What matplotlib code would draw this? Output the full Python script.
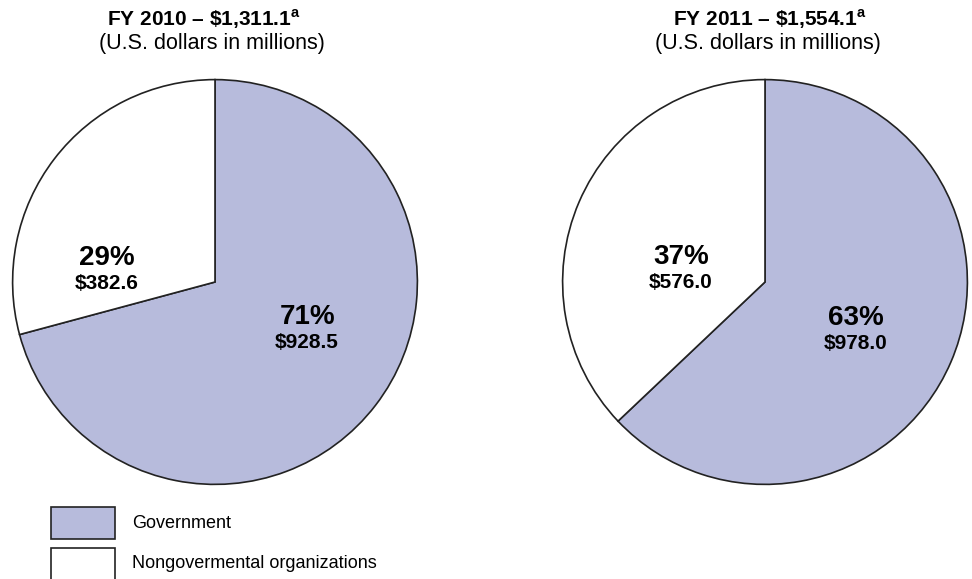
import matplotlib.pyplot as plt
from matplotlib.patches import Rectangle

plt.rcParams['font.family'] = ['Liberation Sans', 'DejaVu Sans']
plt.rcParams['mathtext.fontset'] = 'custom'
plt.rcParams['mathtext.rm'] = 'Liberation Sans'
plt.rcParams['mathtext.bf'] = 'Liberation Sans:bold'

years = ['FY 2010', 'FY 2011']
totals = ['1,311.1', '1,554.1']
government = [928.5, 978.0]
nongov = [382.6, 576.0]
labels = ['Government', 'Nongovermental organizations']
colors = ['#b7bbdc', '#ffffff']

# label offsets from pie center (in radius units): (dx, dy_pct, dy_val)
label_pos = [
    [(0.455, -0.175, -0.3), (-0.535, 0.12, -0.005)],
    [(0.45, -0.18, -0.305), (-0.415, 0.125, 0.0)],
]

W, H = 972, 579
fig = plt.figure(figsize=(W / 100, H / 100), dpi=100)

centers = [(215, 282), (765, 282)]
title_x = [204, 770]
sub_x = [212, 768]
r = 203

for i in range(2):
    cx, cy = centers[i]
    ax = fig.add_axes([(cx - r) / W, (H - cy - r) / H, 2 * r / W, 2 * r / H])
    vals = [government[i], nongov[i]]
    ax.pie(vals, colors=colors, startangle=90, counterclock=False,
           wedgeprops=dict(edgecolor='#222222', linewidth=1.2))
    ax.set_xlim(-1.003, 1.003)
    ax.set_ylim(-1.003, 1.003)
    ax.axis('off')
    total = sum(vals)
    for j, v in enumerate(vals):
        dx, dyp, dyv = label_pos[i][j]
        ax.text(dx, dyp, f'{round(v / total * 100):.0f}%', ha='center', va='center',
                fontsize=20, fontweight='bold')
        ax.text(dx, dyv, f'${v:.1f}', ha='center', va='center',
                fontsize=15, fontweight='bold')

    fig.text(title_x[i] / W, 1 - 19 / H,
             years[i] + r' – \$' + totals[i] + r'$^{\mathbf{a}}$',
             ha='center', va='center', fontsize=15, fontweight='bold')
    fig.text(sub_x[i] / W, 1 - 44 / H, '(U.S. dollars in millions)',
             ha='center', va='center', fontsize=15.5)

# legend
legend_y = [523, 564]
for k in range(2):
    y = legend_y[k]
    fig.patches.append(Rectangle((51 / W, 1 - (y + 16) / H), 64 / W, 32 / H,
                                 transform=fig.transFigure, facecolor=colors[k],
                                 edgecolor='#222222', linewidth=1.2))
    fig.text(132 / W, 1 - y / H, labels[k], ha='left', va='center', fontsize=13)

fig.savefig('out.png', dpi=100)
